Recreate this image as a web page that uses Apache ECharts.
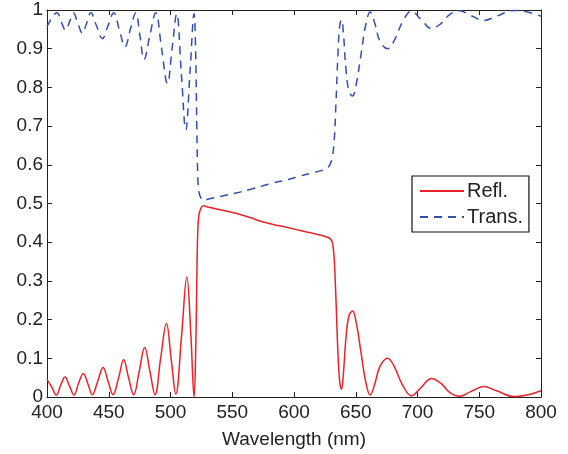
<!DOCTYPE html>
<html>
<head>
<meta charset="utf-8">
<script src="https://cdn.jsdelivr.net/npm/echarts@6/dist/echarts.min.js"></script>
<style>
html,body{margin:0;padding:0;background:#fff;}
#chart{width:568px;height:454px;}
</style>
</head>
<body>
<div id="chart"></div>
<script>
const xTicks = [400, 450, 500, 550, 600, 650, 700, 750, 800];
const yTicks = [0, 0.1, 0.2, 0.3, 0.4, 0.5, 0.6, 0.7, 0.8, 0.9, 1];

const reflWl = [400,404,407.5,411,414.6,418,421.9,425.5,429.4,433,436.7,441,445.4,449.5,453.5,458,462.1,466,470.2,474.7,479.1,483.3,487.5,492,496.7,500.5,504.3,509,513.2,516.5,519.1,520.3,521.3,522,523,525,527,530,540,553,565,575,583,595,605,615,622,626,629,631,632.5,634,635.5,637,638.5,640,642,644.5,647.4,650.5,654.5,658,661.7,665.5,669.5,675.8,681,688,695.2,703,711.4,719,726,733.9,743,753.6,764,778.4,790,800];
const reflVal = [0.045,0.025,0.005,0.03,0.052,0.03,0.005,0.035,0.061,0.035,0.006,0.04,0.076,0.04,0.006,0.05,0.096,0.05,0.006,0.067,0.128,0.067,0.006,0.1,0.19,0.1,0.008,0.16,0.31,0.16,0.0,0.1,0.3,0.42,0.47,0.49,0.494,0.491,0.484,0.475,0.463,0.452,0.446,0.438,0.43,0.423,0.418,0.414,0.41,0.4,0.36,0.25,0.12,0.04,0.02,0.06,0.15,0.21,0.222,0.19,0.11,0.04,0.005,0.035,0.078,0.1,0.08,0.03,0.003,0.025,0.048,0.035,0.012,0.002,0.014,0.027,0.016,0.001,0.006,0.016];

const transWl = [400,404,408,411.5,415,418.3,421.4,425,428.6,432,435.4,440,444.8,449.5,454,458.5,463.2,467.5,471.9,475.2,478.6,483.3,488,492.8,497.5,501.3,505,508.7,512.4,515.8,519.1,520.3,521.3,522,523,525,527,530,540,553,565,575,583,595,605,615,622,626,629,631,632.5,634,635.5,637,638.5,640,642,644.5,647.4,650.5,654.5,658,661.7,665.5,669.5,675.8,681,688,695.2,703,711.4,719,726,733.9,743,753.6,764,778.4,790,800];
const transVal = [0.957,0.98,0.993,0.97,0.948,0.97,0.992,0.965,0.94,0.965,0.993,0.96,0.926,0.96,0.993,0.95,0.905,0.95,0.993,0.935,0.872,0.935,0.993,0.9,0.81,0.9,0.99,0.84,0.69,0.84,0.99,0.9,0.7,0.58,0.53,0.512,0.508,0.511,0.518,0.527,0.537,0.546,0.553,0.562,0.571,0.579,0.585,0.59,0.6,0.62,0.66,0.76,0.88,0.96,0.975,0.94,0.85,0.79,0.778,0.81,0.89,0.96,0.995,0.965,0.92,0.9,0.92,0.97,0.997,0.975,0.952,0.965,0.988,0.998,0.986,0.973,0.984,0.999,0.994,0.984];

const seriesNames = ['Refl.', 'Trans.'];
const xName = 'Wavelength (nm)';

const zip = (a, b) => a.map((v, i) => [v, b[i]]);
const font = '"Liberation Sans", Arial, Helvetica, sans-serif';
const axisLineStyle = { color: '#222', width: 1 };

const chart = echarts.init(document.getElementById('chart'), null, { renderer: 'canvas' });
chart.setOption({
  animation: false,
  backgroundColor: '#fff',
  grid: { left: 47, right: 27, top: 10, bottom: 57, containLabel: false },
  legend: {
    data: seriesNames,
    orient: 'vertical',
    left: 412, top: 176,
    padding: [5, 6, 5, 7],
    itemGap: 6,
    itemWidth: 44, itemHeight: 15,
    borderColor: '#111', borderWidth: 1.2, borderRadius: 0,
    backgroundColor: '#fff',
    itemStyle: { opacity: 0 },
    textStyle: { fontFamily: font, fontSize: 20, color: '#222', padding: [0, 0, 0, -2] }
  },
  xAxis: [{
    type: 'value', min: 400, max: 800, interval: 50,
    name: xName, nameLocation: 'middle', nameGap: 33,
    nameTextStyle: { fontFamily: font, fontSize: 19, color: '#222' },
    axisLine: { show: true, onZero: false, lineStyle: axisLineStyle },
    axisTick: { show: true, inside: true, length: 5, lineStyle: axisLineStyle },
    axisLabel: { fontFamily: font, fontSize: 19, color: '#222', margin: 6 },
    splitLine: { show: false }
  }, {
    type: 'value', min: 400, max: 800, interval: 50, position: 'top',
    axisLine: { show: true, onZero: false, lineStyle: axisLineStyle },
    axisTick: { show: true, inside: true, length: 5, lineStyle: axisLineStyle },
    axisLabel: { show: false }, splitLine: { show: false }
  }],
  yAxis: [{
    type: 'value', min: 0, max: 1, interval: 0.1,
    axisLine: { show: true, onZero: false, lineStyle: axisLineStyle },
    axisTick: { show: true, inside: true, length: 5, lineStyle: axisLineStyle },
    axisLabel: { fontFamily: font, fontSize: 19, color: '#222', margin: 4,
      formatter: v => String(Math.round(v * 10) / 10) },
    splitLine: { show: false }
  }, {
    type: 'value', min: 0, max: 1, interval: 0.1, position: 'right',
    axisLine: { show: true, onZero: false, lineStyle: axisLineStyle },
    axisTick: { show: true, inside: true, length: 5, lineStyle: axisLineStyle },
    axisLabel: { show: false }, splitLine: { show: false }
  }],
  series: [{
    name: seriesNames[0], type: 'line', xAxisIndex: 0, yAxisIndex: 0,
    data: zip(reflWl, reflVal),
    smooth: 0.4, symbol: 'none',
    lineStyle: { color: '#e8232b', width: 1.5 },
    itemStyle: { color: '#e8232b' }
  }, {
    name: seriesNames[1], type: 'line', xAxisIndex: 0, yAxisIndex: 0,
    data: zip(transWl, transVal),
    smooth: 0.4, symbol: 'none',
    lineStyle: { color: '#3350a8', width: 1.5, type: [8, 6] },
    itemStyle: { color: '#3350a8' }
  }]
});
</script>
</body>
</html>
